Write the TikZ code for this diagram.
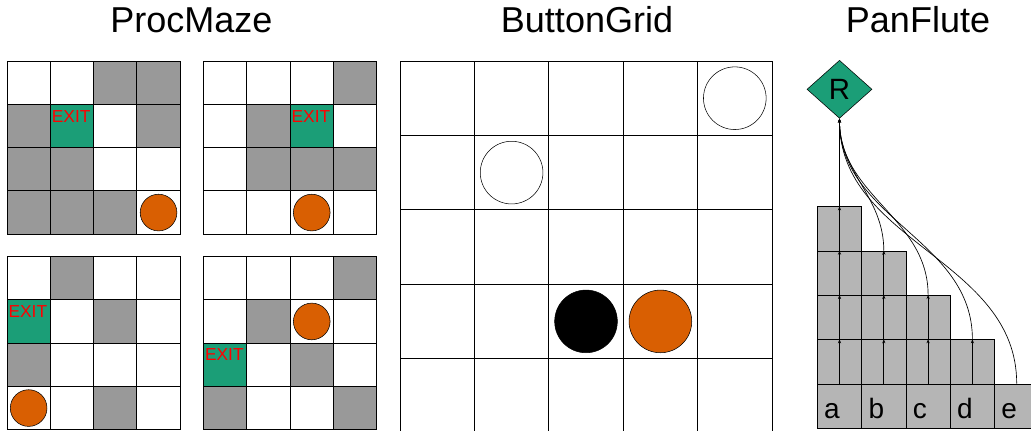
\documentclass[tikz,border=0pt]{standalone}
\usepackage{fontspec}
\setmainfont{Liberation Sans}
\usetikzlibrary{arrows.meta,shapes.geometric}

\definecolor{mazegray}{HTML}{999999}
\definecolor{flutegray}{HTML}{B5B5B5}
\definecolor{exitgreen}{HTML}{1B9E77}
\definecolor{ballorange}{HTML}{D95F02}

\tikzset{
  cell/.style={draw, line width=0.6pt, minimum size=32.5pt, inner sep=0pt},
  exitlabel/.style={anchor=north west, inner sep=0pt, text=red, font=\fontsize{13}{13}\selectfont},
  ball/.style={circle, draw, fill=ballorange, minimum size=27.5pt, inner sep=0pt},
  bcell/.style={draw, line width=0.6pt, fill=white, minimum size=55.8pt, inner sep=0pt},
  button/.style={circle, draw, minimum size=47pt, inner sep=0pt},
  pipe/.style={draw, line width=0.6pt, fill=flutegray, minimum size=33.2pt, inner sep=0pt},
  keylabel/.style={anchor=base west, inner sep=0pt, font=\fontsize{21}{21}\selectfont},
  title/.style={anchor=base, inner sep=0pt, font=\fontsize{27}{30}\selectfont},
  flow/.style={-{Stealth[length=3pt,width=2.4pt]}, line width=0.5pt}
}

% one 4x4 maze: name, left, top, rows of fills
\newcommand{\mazeboard}[4]{%
  \foreach \rw/\rowfills in {#4}
    \foreach \f [count=\col from 0] in \rowfills
      \node[cell, fill=\f] (#1-\rw-\col) at ({#2+43.3*\col+21.65},{#3+43.3*\rw+21.65}) {};
}

\begin{document}
\begin{tikzpicture}[x=0.75pt, y=-0.75pt]
  \clip (0,0) rectangle (1031,430);

  % titles
  \node[title] (mazeTitle) at (191.5,32.3) {ProcMaze};
  \node[title] (gridTitle) at (587,32.3) {ButtonGrid};
  \node[title] (fluteTitle) at (918,32.3) {PanFlute};

  % ProcMaze
  \mazeboard{ma}{7}{61}{0/{white,white,mazegray,mazegray},1/{mazegray,exitgreen,white,mazegray},2/{mazegray,mazegray,white,white},3/{mazegray,mazegray,mazegray,white}}
  \mazeboard{mb}{203.5}{61}{0/{white,white,white,mazegray},1/{white,mazegray,exitgreen,white},2/{white,mazegray,mazegray,mazegray},3/{white,white,white,white}}
  \mazeboard{mc}{7}{256.5}{0/{white,mazegray,white,white},1/{exitgreen,white,mazegray,white},2/{mazegray,white,white,white},3/{white,white,mazegray,white}}
  \mazeboard{md}{203.5}{256.5}{0/{white,white,white,mazegray},1/{white,mazegray,white,white},2/{exitgreen,white,mazegray,white},3/{mazegray,white,white,mazegray}}
  \node[exitlabel] (ma-exit) at ([shift={(1.3pt,-4.5pt)}]ma-1-1.north west) {EXIT};
  \node[exitlabel] (mb-exit) at ([shift={(1.3pt,-4.5pt)}]mb-1-2.north west) {EXIT};
  \node[exitlabel] (mc-exit) at ([shift={(1.3pt,-4.5pt)}]mc-1-0.north west) {EXIT};
  \node[exitlabel] (md-exit) at ([shift={(1.3pt,-4.5pt)}]md-2-0.north west) {EXIT};
  \node[ball] (ma-ball) at (ma-3-3) {};
  \node[ball] (mb-ball) at (mb-3-2) {};
  \node[ball] (mc-ball) at (mc-3-0) {};
  \node[ball] (md-ball) at (md-1-2) {};

  % ButtonGrid
  \foreach \rw in {0,...,4}
    \foreach \col in {0,...,4}
      \node[bcell] (bg-\rw-\col) at ({400+74.4*\col+37.2},{61+74.4*\rw+37.2}) {};
  \node[button, fill=white] (bg-off1) at (bg-0-4) {};
  \node[button, fill=white] (bg-off2) at (bg-1-1) {};
  \node[button, fill=black] (bg-agent) at (bg-3-2) {};
  \node[button, fill=ballorange] (bg-on) at (bg-3-3) {};

  % PanFlute
  \node[diamond, draw, fill=exitgreen, minimum width=48.75pt, minimum height=43.5pt,
        inner sep=0pt, font=\fontsize{22}{22}\selectfont] (R) at (839.5,89.3) {R};
  \foreach \p/\h [count=\i from 0] in {a/4,b/3,c/2,d/1,e/0}
    \foreach \k in {0,...,\h}
      \node[pipe] (\p\k) at ({839.5+44.3*\i},{406.15-44.3*\k}) {};
  \foreach \p in {a,b,c,d,e}
    \node[keylabel] (\p-key) at ([shift={(5.25pt,7.5pt)}]\p0.south west) {\p};
  \foreach \p/\h in {a/4,b/3,c/2,d/1}
    \foreach \k [remember=\k as \lastk (initially 0)] in {1,...,\h}
      \draw[flow] (\p\lastk.north) -- (\p\k.north);
  \draw[flow] (a4.north) -- (R.south);
  \draw[flow] (b3.north) to[out=90,in=270] (R.south);
  \draw[flow] (c2.north) to[out=90,in=270] (R.south);
  \draw[flow] (d1.north) to[out=90,in=270] (R.south);
  \draw[flow] (e0.north) to[out=90,in=270] (R.south);
\end{tikzpicture}
\end{document}
